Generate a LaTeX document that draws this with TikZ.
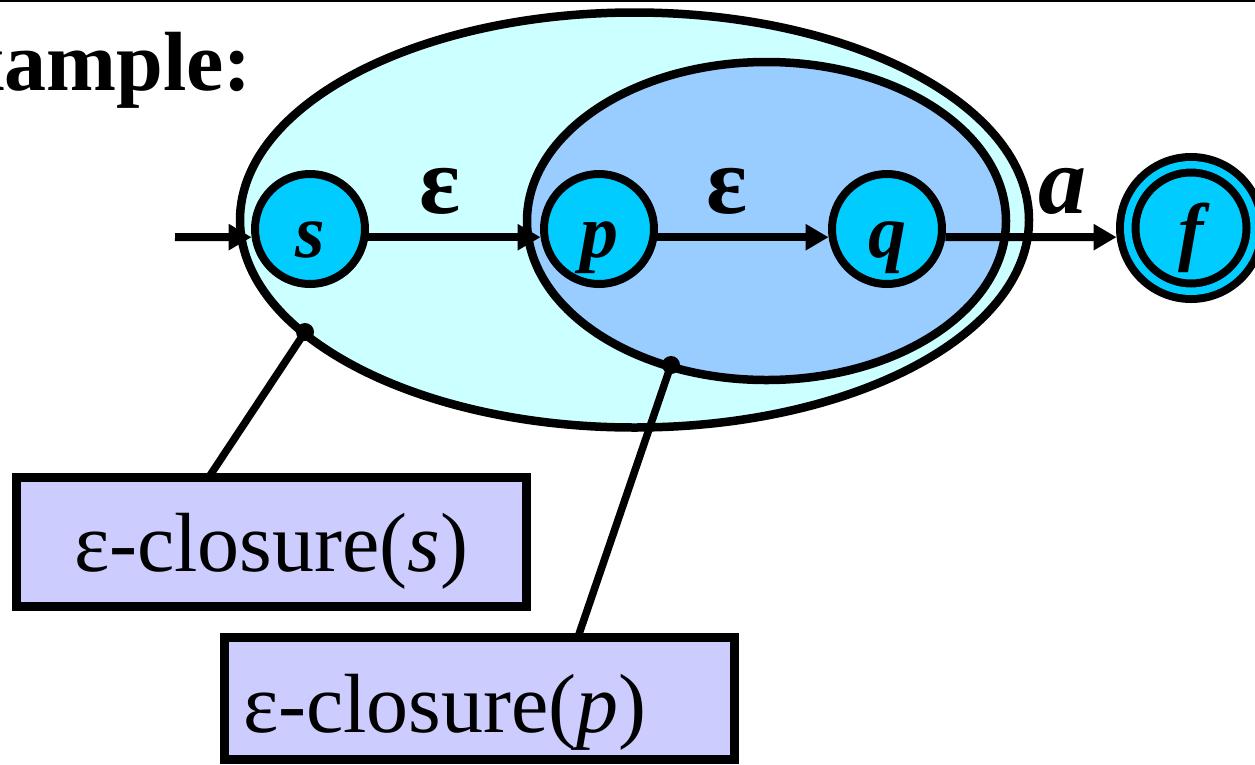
\documentclass[tikz,border=0pt]{standalone}
\usepackage{fontspec}
\setmainfont{Liberation Serif}
\usetikzlibrary{arrows.meta}
\definecolor{outerfill}{HTML}{CCFFFF}
\definecolor{innerfill}{HTML}{99CCFF}
\definecolor{statefill}{HTML}{00CCFF}
\definecolor{boxfill}{HTML}{CCCCFF}
\begin{document}
\begin{tikzpicture}[x=1pt,y=-1pt,
  region/.style={draw, line width=8.5pt},
  state/.style={circle, draw, line width=8pt, fill=statefill, minimum size=110pt, inner sep=0pt,
    font=\fontsize{76}{80}\selectfont\bfseries\itshape, text height=60pt, text depth=4pt},
  edge/.style={line width=8pt, -{Triangle[length=23pt,width=25pt]}},
  elabel/.style={anchor=base, inner sep=0pt, font=\fontsize{96}{100}\selectfont\bfseries},
  dot/.style={circle, fill=black, inner sep=0pt, minimum size=18pt},
  connector/.style={line width=7.5pt},
  cbox/.style={draw, line width=9pt, fill=boxfill, inner sep=0pt, font=\fontsize{84}{90}\selectfont}
]
\useasboundingbox (0,0) rectangle (1255,764);
% top rule
\draw[line width=2pt] (0,1) -- (1255,1);
% title (partly cut off at the left edge, as in the original slide)
\begin{scope}
  \clip (0,0) rectangle (1255,764);
  \node[anchor=base east, inner sep=0pt, font=\fontsize{84}{90}\selectfont\bfseries] (title) at (252,90) {Example:};
\end{scope}
% closures
\draw[region, fill=outerfill] (634.5,220) ellipse [x radius=394.5, y radius=207.5];
\draw[region, fill=innerfill] (766.5,221) ellipse [x radius=239.5, y radius=159];
% states
\node[state] (s) at (310,229) {s};
\node[state] (p) at (599,229) {p};
\node[state] (q) at (887,229) {q};
\node[state, minimum size=126.5pt, double=statefill, double distance=7.5pt, outer sep=11.75pt] (f) at (1191,228) {f};
% transitions
\coordinate (start) at (175,237);
\draw[edge] (start) -- (s.188);
\draw[edge] (s.-8) -- (p.188);
\draw[edge] (p.-8) -- (q.188);
\draw[edge] (q.-8) -- (f.187);
\node[elabel] (l1) at (440,213) {ε};
\node[elabel] (l2) at (727,213) {ε};
\node[elabel, font=\fontsize{96}{100}\selectfont\bfseries\itshape] (l3) at (1062,213) {a};
% callouts
\node[dot] (d1) at (305,332) {};
\node[dot] (d2) at (671,365) {};
\coordinate (c1) at (209,477);
\coordinate (c2) at (578,637);
\draw[connector] (d1.center) -- (c1);
\draw[connector] (d2.center) -- (c2);
\node[cbox, minimum width=509.5pt, minimum height=129pt, text height=65pt, text depth=6pt] (b1) at (271.25,541.5) {ε-closure(\textit{s})};
\node[cbox, minimum width=510pt, minimum height=122pt, text width=472pt, align=left, inner xsep=19pt, text height=72pt, text depth=4pt] (b2) at (479,698) {ε-closure(\textit{p})};
\end{tikzpicture}
\end{document}
